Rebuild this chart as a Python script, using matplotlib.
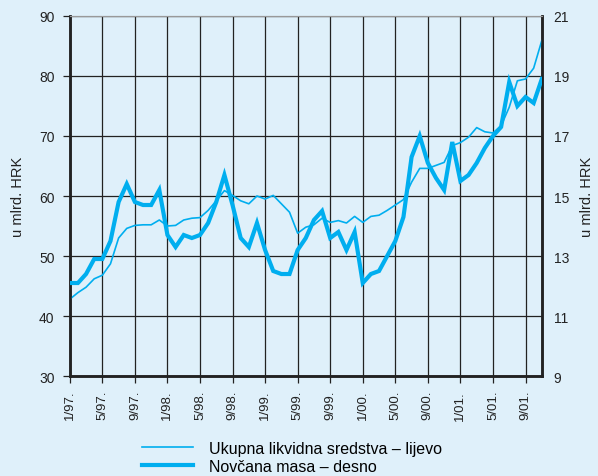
import numpy as np
import matplotlib
matplotlib.use("Agg")
import matplotlib.pyplot as plt
from matplotlib.lines import Line2D

plt.rcParams['font.family'] = ['Liberation Sans', 'DejaVu Sans']

# monthly data, 1/97. - 11/01.
ukupna = [42.8, 43.9, 44.8, 46.2, 46.8, 48.7, 53.0, 54.6, 55.1, 55.2,
          55.2, 56.0, 55.0, 55.1, 56.0, 56.3, 56.4, 57.6, 59.2, 60.9,
          60.1, 59.2, 58.7, 60.0, 59.5, 60.1, 58.7, 57.3, 53.8, 54.8,
          55.2, 56.3, 55.6, 55.9, 55.5, 56.6, 55.6, 56.6, 56.8, 57.6,
          58.5, 59.4, 62.3, 64.6, 64.6, 65.1, 65.6, 68.4, 68.9, 69.8,
          71.4, 70.7, 70.5, 71.7, 74.8, 79.2, 79.5, 81.3, 85.9]
novcana = [12.1, 12.1, 12.4, 12.9, 12.9, 13.5, 14.8, 15.4, 14.8, 14.7,
           14.7, 15.2, 13.7, 13.3, 13.7, 13.6, 13.7, 14.1, 14.8, 15.7,
           14.7, 13.6, 13.3, 14.1, 13.2, 12.5, 12.4, 12.4, 13.2, 13.6,
           14.2, 14.5, 13.6, 13.8, 13.2, 13.8, 12.1, 12.4, 12.5, 13.0,
           13.5, 14.3, 16.3, 17.0, 16.1, 15.6, 15.2, 16.8, 15.5, 15.7,
           16.1, 16.6, 17.0, 17.3, 18.8, 18.0, 18.3, 18.1, 18.9]
tick_labels = ['1/97.', '5/97.', '9/97.', '1/98.', '5/98.', '9/98.', '1/99.',
               '5/99.', '9/99.', '1/00.', '5/00.', '9/00.', '1/01.', '5/01.',
               '9/01.']
label_left = 'Ukupna likvidna sredstva – lijevo'
label_right = 'Novčana masa – desno'

bg = '#dff0fa'
blue = '#00aeef'
dark = '#222222'

x = np.arange(len(ukupna))

fig = plt.figure(figsize=(5.98, 4.77), dpi=100, facecolor=bg)
ax = fig.add_axes([0.1167, 0.2096, 0.7893, 0.7548])
ax.set_facecolor(bg)
ax2 = ax.twinx()

ax.plot(x, ukupna, color=blue, lw=1.2, zorder=3)
ax2.plot(x, novcana, color=blue, lw=3.0, solid_joinstyle='miter', zorder=3)

ax.set_xlim(0, len(ukupna) - 1)
ax.set_ylim(30, 90)
ax2.set_ylim(9, 21)
ax.set_yticks(np.arange(30, 91, 10))
ax2.set_yticks(np.arange(9, 22, 2))
ax.set_xticks(np.arange(0, len(ukupna), 4))
ax.set_xticklabels(tick_labels, rotation=90, va='top')

ax.grid(True, color=dark, lw=0.9, zorder=1)
ax.set_axisbelow(True)

for a in (ax, ax2):
    a.spines['top'].set_color('#999999')
    a.spines['top'].set_linewidth(0.8)
    for s in ('left', 'right', 'bottom'):
        a.spines[s].set_color(dark)
        a.spines[s].set_linewidth(1.8)

ax.tick_params(axis='x', length=5, width=0.9, color=dark, labelsize=9.5,
               labelcolor='#222222', pad=5)
ax.tick_params(axis='y', length=5, width=0.9, color=dark, labelsize=10,
               labelcolor='#222222', pad=6)
ax2.tick_params(axis='y', length=0, labelsize=10, labelcolor='#222222', pad=8.5)

ax.set_ylabel('u mlrd. HRK', fontsize=10.5, color='#222222', labelpad=10)
ax2.set_ylabel('u mlrd. HRK', fontsize=10.5, color='#222222', labelpad=8)

handles = [Line2D([], [], color=blue, lw=1.2),
           Line2D([], [], color=blue, lw=3.0)]
fig.legend(handles, [label_left, label_right], loc='upper left',
           bbox_to_anchor=(0.2375, 0.074), frameon=False, fontsize=11.5,
           handlelength=3.2, handletextpad=1.0, labelspacing=0.2,
           borderaxespad=0, borderpad=0)

fig.savefig('out.png', dpi=100, facecolor=bg)
